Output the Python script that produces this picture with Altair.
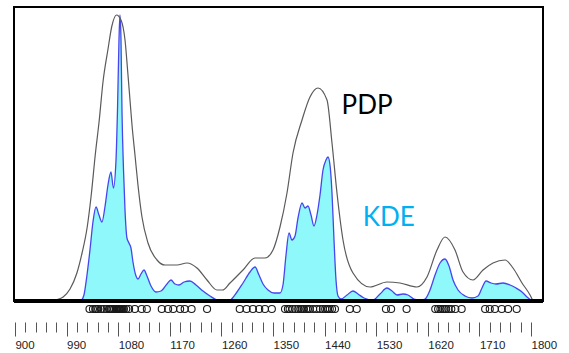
import altair as alt
import pandas as pd

# ---- data ----
pdp_age = [940, 961, 973, 984, 996, 1008, 1017, 1026, 1033, 1040, 1047, 1053.5, 1062, 1069, 1077,
           1084.9, 1091.9, 1097.1, 1100.6, 1104.1, 1109.3, 1114.5, 1121.5, 1132.0, 1147.7, 1161.6,
           1182.6, 1200.0, 1217.4, 1234.9, 1252.3, 1262, 1275.0, 1297.7, 1318.6, 1336.0, 1350.0,
           1362.2, 1374.4, 1384.9, 1400.6, 1414.5, 1428.5, 1444.2, 1452.9, 1461.6, 1472.1, 1489.5,
           1519.2, 1548.8, 1571.5, 1601.1, 1618.6, 1636.0, 1650.0, 1667.4, 1681.4, 1698.8, 1716.3,
           1733.7, 1754.7, 1768.6, 1784.3, 1798.3, 1803.5]
pdp_density = [0, 0.5, 1.5, 4, 12, 28, 48, 74, 106, 146, 181, 219, 251, 275, 286,
               281, 261, 226, 201, 176, 146, 116, 84, 58, 41, 36,
               36, 38, 33, 21, 11, 11, 18, 31, 43, 43, 51,
               74, 108, 148, 181, 204, 213, 201, 158, 108, 61, 28,
               14, 19, 18, 14, 24, 51, 64, 51, 29, 21, 31,
               38, 41, 33, 18, 6, 0]

kde_age = [1015.1, 1020.3, 1025.6, 1030.8, 1036.0, 1041.3, 1046.5, 1051.7, 1056.9, 1062.2, 1067.4,
           1071.7, 1076.2, 1078.8, 1081.4, 1083.1, 1084.9, 1086.6, 1089.3, 1091.9, 1095.3, 1098.8,
           1102.3, 1105.8, 1111.1, 1114.5, 1119.8, 1125.0, 1130.2, 1137.2, 1145.9, 1154.7, 1165.1,
           1172.1, 1179.1, 1186.0, 1194.8, 1205.2, 1215.7, 1227.9, 1240.1, 1252.3, 1262.8, 1275.0,
           1287.2, 1297.7, 1309.9, 1318.6, 1325.6, 1332.6, 1341.3, 1351.7, 1362.2, 1367.4, 1372.7,
           1377.9, 1383.1, 1388.4, 1393.6, 1400.6, 1405.8, 1411.0, 1416.3, 1421.5, 1426.7, 1432.0,
           1437.2, 1442.4, 1445.9, 1449.4, 1452.9, 1456.4, 1459.9, 1463.4, 1468.6, 1479.1, 1489.5,
           1498.3, 1508.7, 1524.4, 1536.6, 1548.8, 1557.6, 1566.3, 1576.7, 1585.5, 1596.0, 1606.4,
           1615.1, 1623.8, 1632.6, 1641.3, 1650.0, 1657.0, 1664.0, 1672.7, 1684.9, 1697.1, 1707.6,
           1714.5, 1721.5, 1730.2, 1738.9, 1751.2, 1763.4, 1773.9, 1784.3, 1793.0, 1800.0, 1803.5]
kde_density = [0, 6, 26, 51, 79, 94, 86, 79, 94, 116, 129,
               113, 141, 191, 261, 286, 261, 191, 131, 91, 63, 58,
               53, 39, 25, 22, 27, 31, 25, 15, 9, 10, 17,
               21, 17, 16, 19, 20, 16, 10, 5, 1, 0, 1,
               9, 18, 29, 34, 26, 17, 11, 8, 8, 16, 46,
               68, 61, 65, 83, 98, 93, 95, 86, 75, 86, 106,
               131, 141, 144, 136, 108, 61, 21, 5, 2, 6, 10,
               7, 3, 1, 7, 13, 10, 6, 7, 6, 2, 1,
               2, 11, 26, 38, 42, 35, 21, 11, 5, 3, 5,
               13, 20, 18, 17, 18, 16, 13, 9, 4, 1, 0]

sample_ages = [1030, 1036, 1040, 1042, 1045, 1050, 1055, 1060, 1064, 1066, 1068, 1070, 1073,
               1076, 1078, 1080, 1081, 1082, 1083, 1084, 1085, 1086, 1088, 1090, 1094, 1099,
               1109, 1121, 1130, 1156, 1167, 1176, 1188, 1196, 1208, 1235,
               1292, 1304, 1315, 1326, 1336, 1348,
               1371, 1376, 1379, 1384, 1389, 1394, 1398, 1401, 1404, 1408, 1411, 1414, 1420,
               1426, 1432, 1437, 1441, 1444, 1446, 1449, 1453, 1458,
               1484, 1496, 1547, 1556, 1583,
               1633, 1638, 1642, 1646, 1649, 1652, 1656, 1661, 1668, 1679,
               1720, 1728, 1737, 1749, 1760, 1775]

tick_values = list(range(900, 1801, 18))
label_values = list(range(900, 1801, 90))

annot_text = ["PDP", "KDE"]
annot_age = [1514, 1552]
annot_density = [195, 83]
annot_color = ["#000000", "#00B0F0"]

pdp_df = pd.DataFrame({"age": pdp_age, "density": pdp_density})
kde_df = pd.DataFrame({"age": kde_age, "density": kde_density})
samp_df = pd.DataFrame({"age": sample_ages})
annot_df = pd.DataFrame({"text": annot_text, "age": annot_age, "density": annot_density,
                         "color": annot_color})

x_scale = alt.Scale(domain=[898.3, 1820.9], nice=False, zero=False)
y_scale = alt.Scale(domain=[0, 294], nice=False, zero=False)

major_test = " || ".join(f"datum.value == {v}" for v in label_values)

x_axis = alt.Axis(
    values=tick_values,
    tickCount=200,
    title=None,
    domain=False,
    grid=False,
    offset=21,
    tickColor="#555555",
    tickWidth=1,
    tickSize={"condition": {"test": major_test, "value": 14}, "value": 10},
    labelExpr=f"({major_test}) ? datum.label : ''",
    format="d",
    labelOverlap=False,
    labelFlush=False,
    labelAlign="left",
    labelPadding=3,
    labelFont="Liberation Sans",
    labelFontSize=11.5,
    labelColor="#222222",
)

x_enc = alt.X("age:Q", scale=x_scale, axis=x_axis)
y_enc = alt.Y("density:Q", scale=y_scale, axis=None)

pdp = alt.Chart(pdp_df).mark_line(
    color="#5a5a5a", strokeWidth=1.2, interpolate="monotone"
).encode(x=x_enc, y=y_enc)

kde = alt.Chart(kde_df).mark_area(
    color="#8ef8fb", opacity=1, interpolate="monotone",
    line={"color": "#4646ee", "strokeWidth": 1.3}
).encode(x=x_enc, y=y_enc)

baseline = alt.Chart(pdp_df).mark_rule(color="#000000", strokeWidth=3).encode(
    y=alt.datum(0, scale=y_scale), x=alt.value(0), x2=alt.value(529)
)

circles = alt.Chart(samp_df).mark_point(
    shape="circle", filled=False, size=50, stroke="#1a1a1a", strokeWidth=1.1,
    opacity=1, clip=False
).encode(x=x_enc, y=alt.value(302))

texts = alt.Chart(annot_df).mark_text(
    font="Lato", fontSize=26, align="center", baseline="middle"
).encode(
    x=alt.X("age:Q", scale=x_scale),
    y=alt.Y("density:Q", scale=y_scale),
    text="text:N",
    color=alt.Color("color:N", scale=None),
)

chart = alt.layer(kde, pdp, baseline, circles, texts).properties(
    width=529,
    height=294,
    autosize=alt.AutoSizeParams(type="none"),
    padding={"left": 14, "top": 7, "right": 26, "bottom": 52},
    background="white",
).configure_view(stroke="#000000", strokeWidth=2)

chart.save("out.html", embed_options={"renderer": "svg", "actions": False})
